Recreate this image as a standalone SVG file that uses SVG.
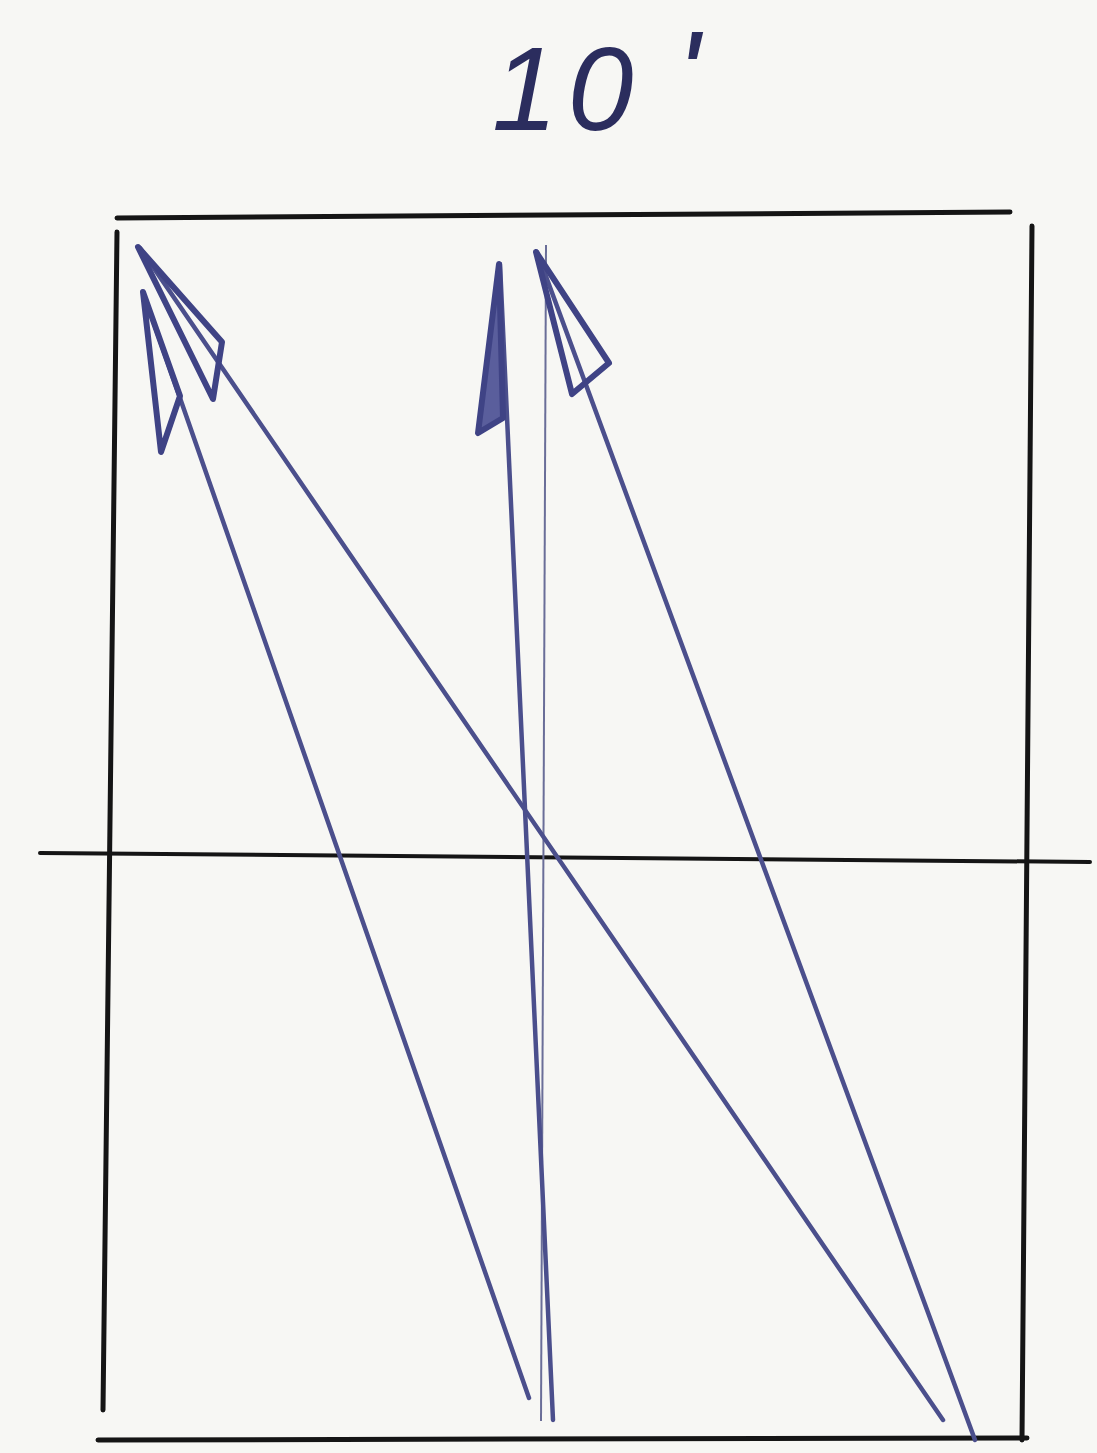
<svg xmlns="http://www.w3.org/2000/svg" width="1097" height="1453" viewBox="0 0 1097 1453">
<style>
.frame{stroke:#151515;stroke-width:5;stroke-linecap:round;fill:none}
.ray{stroke:#4b4f8c;stroke-width:4.5;stroke-linecap:round;fill:none}
.thin{stroke:#6a6e98;stroke-width:2;fill:none}
.head{stroke:#3f4385;stroke-width:6;stroke-linejoin:round;stroke-linecap:round;fill:none}
.title{font-family:"Liberation Sans",Arial,sans-serif;font-style:italic;fill:#2b2d5e}
</style>
<rect x="0" y="0" width="1097" height="1453" fill="#f7f7f4"/>
<text class="title" x="492" y="130" font-size="118" letter-spacing="10">10<tspan x="676" y="118" font-size="124">'</tspan></text>
<g id="frame">
<path class="frame" d="M117 218 L1010 212"/>
<path class="frame" d="M117 232 L103 1410"/>
<path class="frame" d="M1032 226 L1022 1440"/>
<path class="frame" d="M98 1440 L1027 1438"/>
<path class="frame" style="stroke-width:4" d="M40 853 L1090 862"/>
</g>
<g id="connectors">
<path class="thin" d="M546 245 L541 1421"/>
<path class="ray" d="M140 248 L943 1420"/>
<path class="ray" d="M143 292 L529 1398"/>
<path class="ray" d="M500 264 L553 1420"/>
<path class="ray" d="M537 252 L975 1440"/>
</g>
<g id="arrow1"><polygon class="head" points="138,247 222,342 213,399"/></g>
<g id="arrow2"><polygon class="head" points="143,292 180,396 161,452"/></g>
<g id="arrow3"><polygon class="head" style="fill:#5a5e9c" points="499,264 503,418 478,433"/></g>
<g id="arrow4"><polygon class="head" points="536,252 609,363 572,394"/></g>
</svg>
